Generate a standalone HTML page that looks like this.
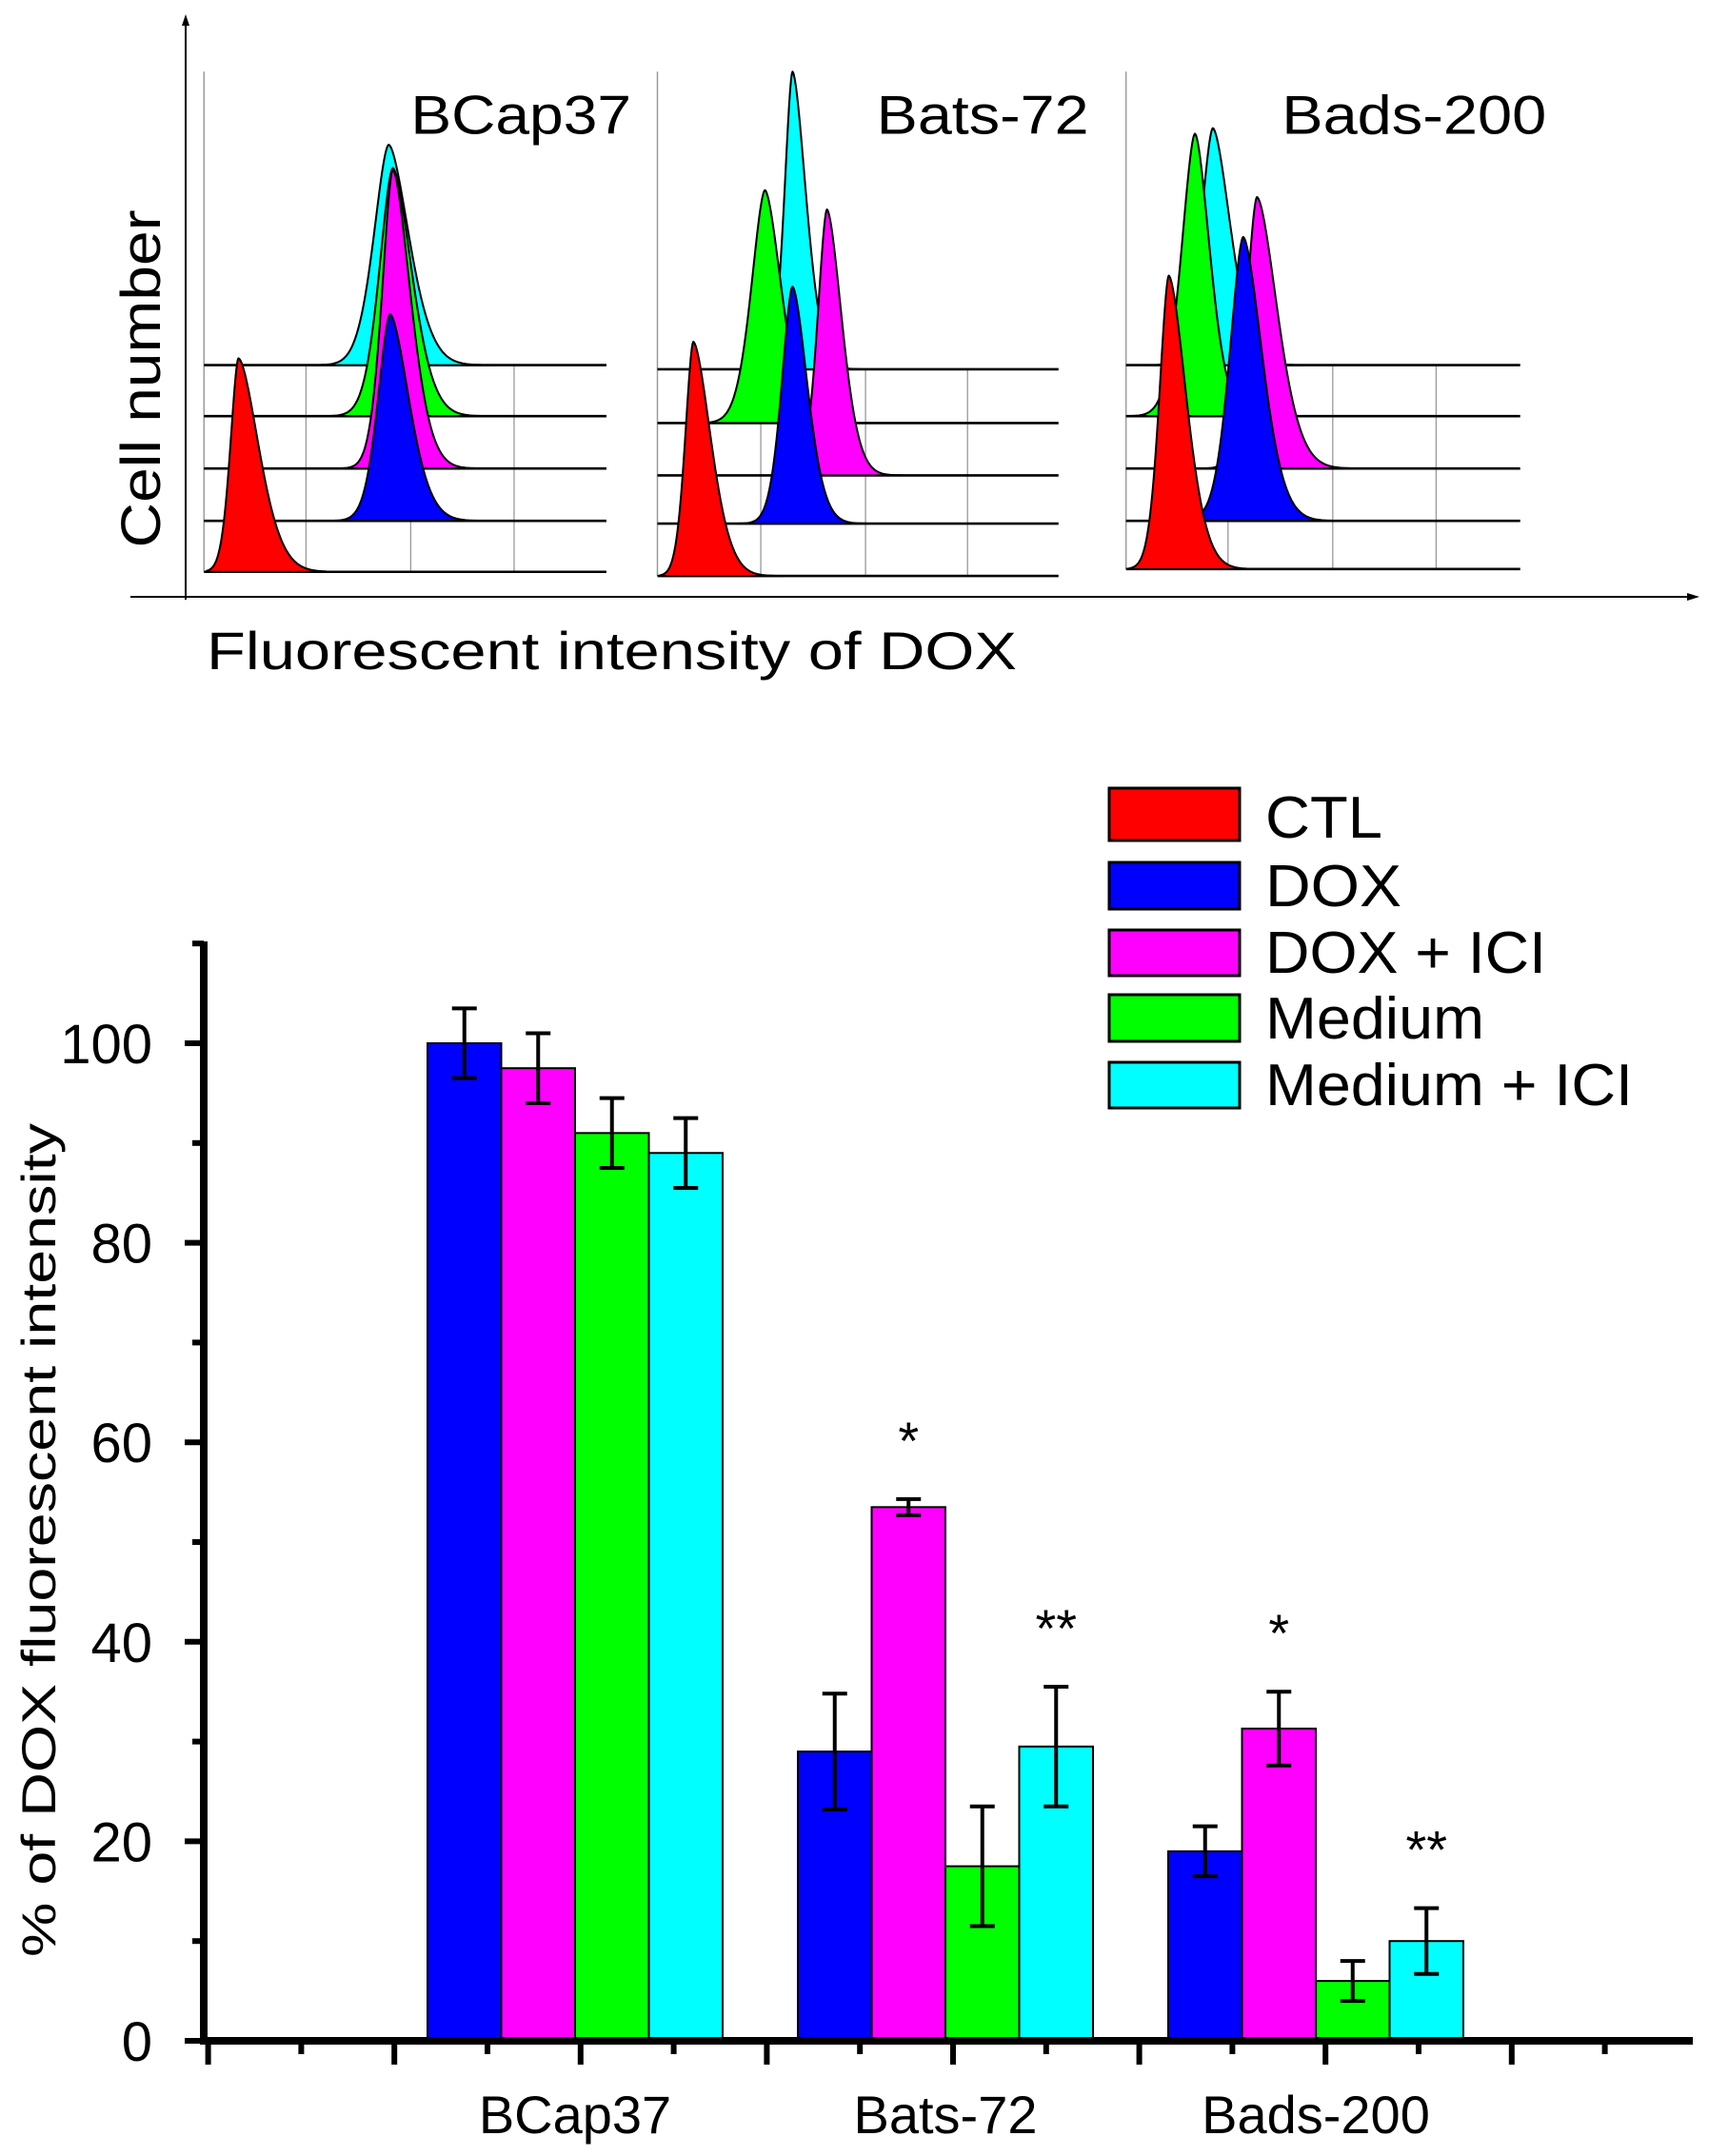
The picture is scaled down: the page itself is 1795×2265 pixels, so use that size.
<!DOCTYPE html>
<html><head><meta charset="utf-8"><style>
html,body{margin:0;padding:0;background:#fff;}
svg{display:block;font-family:"Liberation Sans",Arial,sans-serif;}
</style></head><body>
<svg id="fig" width="1795" height="2265" viewBox="0 0 1795 2265" xmlns="http://www.w3.org/2000/svg">
<g id="top">
  <line x1="195" y1="630" x2="195" y2="22" stroke="#000" stroke-width="2"/>
  <polygon points="195,15 191,27 199,27" fill="#000"/>
  <line x1="137" y1="627" x2="1776" y2="627" stroke="#000" stroke-width="2"/>
  <polygon points="1785,627 1772,623 1772,631" fill="#000"/>
  <text x="0" y="0" transform="translate(168,398) rotate(-90)" text-anchor="middle" font-size="58" textLength="355" lengthAdjust="spacingAndGlyphs">Cell number</text>
  <text x="217" y="703" font-size="56" textLength="851" lengthAdjust="spacingAndGlyphs">Fluorescent  intensity of DOX</text>
  <g id="hists" transform="scale(1.4476)"></g>
</g>
<g id="bottom"></g>
</svg>
<script>
const NS='http://www.w3.org/2000/svg';
// ---- histogram data (preview units) ----
const panelNames=['BCap37','Bats-72','Bads-200'];
const panelLeft=[148,477,817];
const panelRight=[440,768,1103];
const panelBaselines=[[265,302,340,378,415],[268,307,345,380,418],[265,302,340,378,413]];
const histColors=['#00ffff','#00ff00','#ff00ff','#0000ff','#ff0000'];
const histPeakX=[[282,285,285,283,173],[575,555,600,575,503],[880,867,912,902,848]];
const histPeakY=[[105,122,123,228,260],[52,138,152,208,248],[93,97,143,172,200]];
const histSigL=[[11,10,8,9,6],[6,10,7,8,6],[9,10,8,10,7]];
const histSigR=[[15,14,13,14,15],[10,12,11,11,13],[13,11,15,14,13]];
const panelGrid=[[222,298,373],[552,628,702],[891,967,1042]];
const labelX=[[298,458],[636,790],[930,1122]];

const hg=document.getElementById('hists');
function mk(tag,attrs,parent){const e=document.createElementNS(NS,tag);for(const k in attrs)e.setAttribute(k,attrs[k]);parent.appendChild(e);return e;}
for(let p=0;p<3;p++){
  const g=mk('g',{},hg);
  
  
  const bl=panelBaselines[p];
  const vl=mk('line',{x1:panelLeft[p],y1:52,x2:panelLeft[p],y2:bl[4],stroke:'#999','stroke-width':1},g);
  
  
  panelGrid[p].forEach(gx=>{
    const l=mk('line',{x1:gx,y1:bl[0],x2:gx,y2:bl[4],stroke:'#999','stroke-width':0.9},g);
    
    
  });
  for(let k=0;k<5;k++){
    const b=bl[k];
    const ln=mk('line',{x1:panelLeft[p],y1:b,x2:panelRight[p],y2:b,stroke:'#000','stroke-width':1.8},g);
    
    
    const px=histPeakX[p][k],h=b-histPeakY[p][k],sl=histSigL[p][k],sr=histSigR[p][k];
    let d='',x0=Math.max(panelLeft[p]+2,px-5*sl),x1=px+5*sr;
    for(let x=x0;x<=x1+0.01;x+=0.5){
      const s=x<px?sl:sr;const z=Math.abs(x-px)/s;const y=b-h*Math.exp(-0.55*Math.pow(z,1.7));
      d+=(d?'L':'M')+x.toFixed(1)+','+y.toFixed(1);
    }
    d+='L'+x1.toFixed(1)+','+b+'L'+x0.toFixed(1)+','+b+'Z';
    const pa=mk('path',{d:d,fill:histColors[k],stroke:'#000','stroke-width':1.4,'stroke-linejoin':'round'},g);
    
    
  }
  const t=mk('text',{x:labelX[p][0],y:97,'font-size':40,textLength:labelX[p][1]-labelX[p][0],lengthAdjust:'spacingAndGlyphs'},g);
  t.textContent=panelNames[p];
  
  
}

// ---- bar chart data ----
const categories=['BCap37','Bats-72','Bads-200'];
const seriesNames=['DOX','DOX + ICI','Medium','Medium + ICI'];
const seriesColors=['#0000ff','#ff00ff','#00ff00','#00ffff'];
const valDOX=[100,29,19];
const valDOXICI=[97.5,53.5,31.3];
const valMedium=[91,17.5,6];
const valMediumICI=[89,29.5,10];
const errDOX=[3.5,5.8,2.5];
const errDOXICI=[3.5,0.8,3.7];
const errMedium=[3.5,6,2];
const errMediumICI=[3.5,6,3.3];
const starLabels=[['','','',''],['','*','','**'],['','*','','**']];
const yTicks=[0,20,40,60,80,100];
const legendNames=['CTL','DOX','DOX + ICI','Medium','Medium + ICI'];
const legendColors=['#ff0000','#0000ff','#ff00ff','#00ff00','#00ffff'];

const bg=document.getElementById('bottom');
const Y0=2144,PPU=10.48,AX=214;
const y=v=>Y0-v*PPU;
const groupStart=i=>449+i*389, barW=77.5;
const x=(i,s)=>groupStart(i)+s*barW;
const vals=[valDOX,valDOXICI,valMedium,valMediumICI];
const errs=[errDOX,errDOXICI,errMedium,errMediumICI];
for(let i=0;i<categories.length;i++){
  for(let s=0;s<4;s++){
    const v=vals[s][i],e=errs[s][i],bx=x(i,s);
    const r=mk('rect',{x:bx,y:y(v),width:barW,height:Y0-y(v),fill:seriesColors[s],stroke:'#000','stroke-width':2},bg);
    
    
    const cx=bx+barW/2;
    const eb=mk('path',{d:`M${cx},${y(v+e)}V${y(v-e)}M${cx-13},${y(v+e)}H${cx+13}M${cx-13},${y(v-e)}H${cx+13}`,stroke:'#000','stroke-width':4,fill:'none'},bg);
    
    
    if(starLabels[i][s]){
      const st=mk('text',{x:cx,y:y(v+e)-42,'text-anchor':'middle','font-size':56},bg);
      st.textContent=starLabels[i][s];
      
      
    }
  }
  const cl=mk('text',{x:groupStart(i)+2*barW,y:2241,'text-anchor':'middle','font-size':56},bg);
  cl.textContent=categories[i];
  
  
}
// axes
const ya=mk('line',{x1:AX,y1:989,x2:AX,y2:Y0+4,stroke:'#000','stroke-width':8},bg);


const xa=mk('line',{x1:AX-4,y1:Y0,x2:1778,y2:Y0,stroke:'#000','stroke-width':8},bg);


for(let v=0;v<=110;v+=10){
  const major=v%20===0;
  const t=mk('line',{x1:AX-(major?20:12),y1:y(v),x2:AX,y2:y(v),stroke:'#000','stroke-width':6},bg);
  
  
}
yTicks.forEach(v=>{
  const t=mk('text',{x:160,y:y(v)+21,'text-anchor':'end','font-size':58},bg);
  t.textContent=v;
  
  
});
for(let k=0;k<17;k++){
  const tx=218.6+k*97.8;if(tx>1780)break;
  const major=k%2===0;
  const t=mk('line',{x1:tx,y1:Y0,x2:tx,y2:Y0+(major?25:14),stroke:'#000','stroke-width':6},bg);
  
  
}
const yt=mk('text',{transform:'translate(58,1618) rotate(-90)','text-anchor':'middle','font-size':50,textLength:876,lengthAdjust:'spacingAndGlyphs'},bg);
yt.textContent='% of DOX fluorescent intensity';


// legend
const legY=[828,906,977,1045,1116],legH=[55,49,48,49,48],legW=[123,143,295,230,386];
legendNames.forEach((n,k)=>{
  const r=mk('rect',{x:1165,y:legY[k],width:137,height:legH[k],fill:legendColors[k],stroke:'#000','stroke-width':3},bg);
  
  
  const t=mk('text',{x:1329,y:legY[k]+legH[k]-3,'font-size':62,textLength:legW[k],lengthAdjust:'spacingAndGlyphs'},bg);
  t.textContent=n;
  
  
});
</script>
</body></html>
